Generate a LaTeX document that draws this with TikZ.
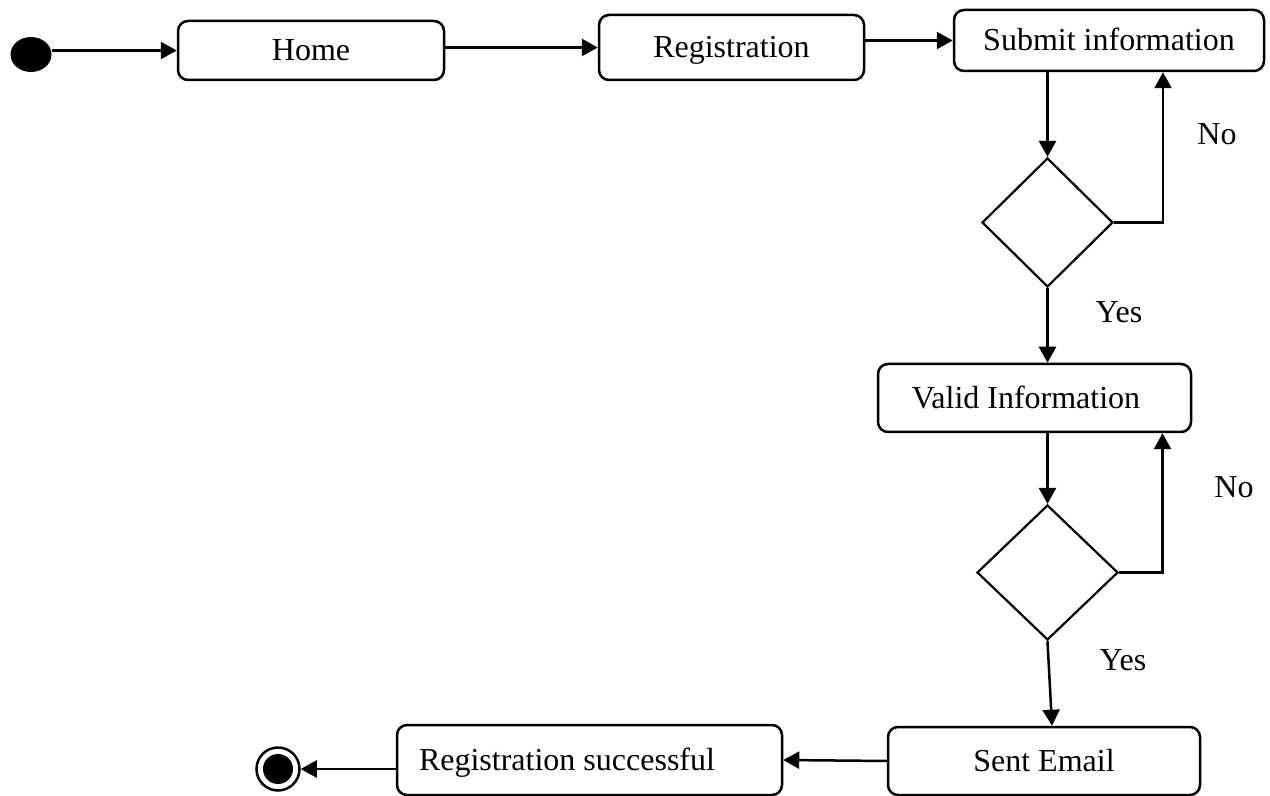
\documentclass[tikz,border=0pt]{standalone}
\usepackage{fontspec}
\setmainfont{Liberation Serif}
\usetikzlibrary{arrows.meta,shapes.geometric}
\begin{document}
\begin{tikzpicture}[x=0.5pt,y=-0.5pt,
  every node/.style={font=\fontsize{16pt}{19pt}\selectfont, text height=11pt, text depth=0.5pt},
  state/.style={draw, rounded corners=5pt, line width=1.25pt, inner sep=0pt},
  decision/.style={draw, diamond, line width=1.1pt, inner sep=0pt, text height=0pt, text depth=0pt},
  flow/.style={-{Triangle[length=8pt,width=8.5pt]}, line width=1.25pt},
  lbl/.style={inner sep=0pt}]
\useasboundingbox (0,0) rectangle (1270,796);

% initial and final pseudo-states
\node[ellipse, fill=black, inner sep=0pt, text height=0pt, text depth=0pt,
      minimum width=20.5pt, minimum height=17.5pt] (start) at (31,54.5) {};
\node[circle, draw, line width=1.25pt, inner sep=0pt, text height=0pt, text depth=0pt,
      minimum size=21.5pt] (endc) at (278,769) {};
\node[circle, fill=black, inner sep=0pt, text height=0pt, text depth=0pt,
      minimum size=15pt] (endin) at (endc) {};

% activity states
\node[state, minimum width=133pt, minimum height=29.5pt] (home) at (311,50.5) {Home};
\node[state, minimum width=132.5pt, minimum height=32.5pt] (reg) at (731.5,47.5) {Registration};
\node[state, minimum width=155pt, minimum height=30.5pt] (sub) at (1109,40.5) {Submit information};
\node[state, minimum width=156.5pt, minimum height=34pt] (valid) at (1034.5,398) {Valid Information\kern8.5pt};
\node[state, minimum width=156pt, minimum height=34pt] (sent) at (1044,761) {Sent Email};
\node[state, minimum width=192.5pt, minimum height=35pt] (regok) at (589.5,760) {Registration successful\kern22.5pt};

% decisions
\node[decision, minimum width=65.5pt, minimum height=64.5pt] (d1) at (1047.5,222.5) {};
\node[decision, minimum width=70.5pt, minimum height=67.5pt] (d2) at (1047.5,572.5) {};

% guard labels
\node[lbl] (no1) at (1217,134) {No};
\node[lbl] (yes1) at (1119,312) {Yes};
\node[lbl] (no2) at (1234,487) {No};
\node[lbl] (yes2) at (1123,660) {Yes};

% transitions
\draw[flow] (start.east |- home.west) -- (home.west);
\draw[flow] (home.east |- reg.west) -- (reg.west);
\draw[flow] (reg.east |- sub.west) -- (sub.west);
\draw[flow] (d1.north |- sub.south) -- (d1.north);
\draw[flow] (d1.east) -| ([xshift=27pt]sub.south);
\draw[flow] (d1.south) -- (d1.south |- valid.north);
\draw[flow] (d2.north |- valid.south) -- (d2.north);
\draw[flow] (d2.east) -| ([xshift=64pt]valid.south);
\draw[flow] (d2.south) -- ([xshift=4pt]sent.north);
\draw[flow] (sent.west) -- (regok.east);
\draw[flow] (regok.west |- endc.east) -- (endc.east);
\end{tikzpicture}
\end{document}
